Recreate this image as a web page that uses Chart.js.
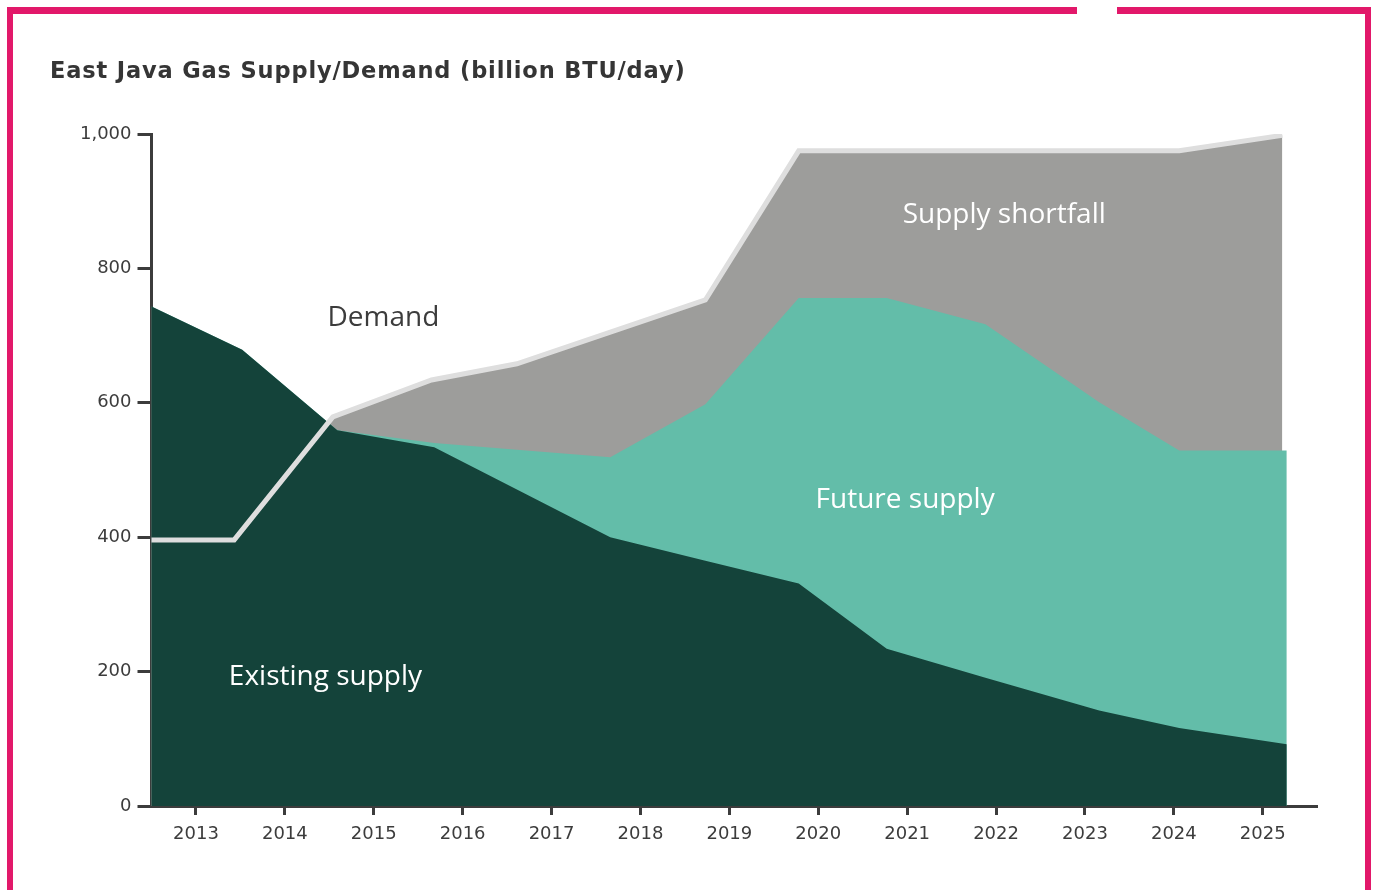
<!DOCTYPE html>
<html>
<head>
<meta charset="utf-8">
<script src="https://cdn.jsdelivr.net/npm/chart.js@4.4.1/dist/chart.umd.min.js"></script>
<style>
html,body{margin:0;padding:0;background:#fff;width:1375px;height:890px;overflow:hidden;}
#wrap{position:relative;width:1375px;height:890px;}
#c{position:absolute;left:0;top:0;}
.bar{position:absolute;background:#e2186a;}
#title{position:absolute;left:50px;top:57px;font-family:"DejaVu Sans",sans-serif;font-weight:bold;font-size:22.5px;color:#353535;white-space:nowrap;letter-spacing:0.85px;}
</style>
</head>
<body>
<div id="wrap">
  <canvas id="c" width="1375" height="890"></canvas>
  <div class="bar" style="left:7px;top:7px;width:1070px;height:7px"></div>
  <div class="bar" style="left:1117px;top:7px;width:254px;height:7px"></div>
  <div class="bar" style="left:7px;top:7px;width:6px;height:883px"></div>
  <div class="bar" style="left:1365px;top:7px;width:6px;height:883px"></div>
  <div id="title">East Java Gas Supply/Demand (billion BTU/day)</div>
</div>
<script>
// ---- data ----
const xTickYears = [2013, 2014, 2015, 2016, 2017, 2018, 2019, 2020, 2021, 2022, 2023, 2024, 2025];
const yTickValues = [0, 200, 400, 600, 800, 1000];

// sample positions (in years) of the supply areas
const supplyX = [2012.49, 2013.52, 2014.59, 2015.68, 2016.61, 2017.66, 2018.73, 2019.78, 2020.77, 2021.88, 2023.16, 2024.06, 2025.27];
const existingSupply = [744, 679, 559, 534, 471, 400, 365, 331, 234, 191, 142, 116, 92];
const futureSupply   = [0, 0, 0, 6, 59, 119, 233, 425, 522, 526, 459, 413, 437];

// demand line
const demandX = [2012.49, 2013.43, 2014.54, 2015.65, 2016.61, 2018.73, 2019.78, 2024.06, 2025.22];
const demand  = [396, 396, 579, 634, 658, 753, 975, 975, 998];

// text labels inside the chart: [text, x (year), y (value), colour]
const areaLabels = [
  ["Demand", 2014.48, 726, "#3c3c3c"],
  ["Supply shortfall", 2020.95, 880, "#ffffff"],
  ["Future supply", 2019.97, 455, "#ffffff"],
  ["Existing supply", 2013.37, 192, "#ffffff"]
];

// ---- build ----
const existingPts = supplyX.map((x, i) => ({x, y: existingSupply[i]}));
const futureTopPts = supplyX.map((x, i) => ({x, y: existingSupply[i] + futureSupply[i]}));
const demandPts = demandX.map((x, i) => ({x, y: demand[i]}));

const AXIS = '#3c3c3c';
const TICKFONT = {family: '"DejaVu Sans", sans-serif', size: 18};

const labelPlugin = {
  id: 'areaLabels',
  afterDatasetsDraw(chart) {
    const {ctx, scales: {x, y}} = chart;
    ctx.save();
    ctx.font = '400 28px "Open Sans", sans-serif';
    ctx.textAlign = 'left';
    ctx.textBaseline = 'middle';
    areaLabels.forEach(([t, xv, yv, col]) => {
      ctx.fillStyle = col;
      ctx.fillText(t, x.getPixelForValue(xv), y.getPixelForValue(yv));
    });
    ctx.restore();
  }
};

new Chart(document.getElementById('c'), {
  type: 'line',
  data: {
    datasets: [
      {label: 'Supply shortfall', data: demandPts, fill: 'origin', backgroundColor: '#9d9d9b', borderWidth: 0, pointRadius: 0, order: 5},
      {label: 'Future supply', data: futureTopPts, fill: 'origin', backgroundColor: '#63bda9', borderWidth: 0, pointRadius: 0, order: 4},
      {label: 'Existing supply', data: existingPts, fill: 'origin', backgroundColor: '#14433a', borderWidth: 0, pointRadius: 0, order: 3},
      {label: 'Demand', data: demandPts, fill: false, borderColor: '#dedede', borderWidth: 5, pointRadius: 0, order: 1, borderJoinStyle: 'miter'}
    ]
  },
  options: {
    responsive: false,
    animation: false,
    devicePixelRatio: 1,
    layout: {padding: {top: 134, right: 58, left: 0, bottom: 0}},
    plugins: {legend: {display: false}, tooltip: {enabled: false}, title: {display: false}},
    elements: {line: {tension: 0}},
    scales: {
      x: {
        type: 'linear',
        min: 2012.5,
        max: 2025.61,
        afterFit: s => { s.height = 84; },
        afterBuildTicks: s => { s.ticks = xTickYears.map(v => ({value: v})); },
        border: {display: true, color: AXIS, width: 3},
        grid: {display: true, drawOnChartArea: false, drawTicks: true, tickLength: 9, tickWidth: 3, tickColor: AXIS},
        ticks: {color: AXIS, font: TICKFONT, padding: 9, maxRotation: 0, autoSkip: false, callback: v => String(v)}
      },
      y: {
        type: 'linear',
        min: 0,
        max: 1000,
        afterFit: s => { s.width = 151.5; },
        afterBuildTicks: s => { s.ticks = yTickValues.map(v => ({value: v})); },
        border: {display: true, color: AXIS, width: 3},
        grid: {display: true, drawOnChartArea: false, drawTicks: true, tickLength: 14, tickWidth: 3, tickColor: AXIS},
        ticks: {color: AXIS, font: TICKFONT, padding: 6, callback: v => v.toLocaleString('en-US')}
      }
    }
  },
  plugins: [labelPlugin]
});
</script>
</body>
</html>
